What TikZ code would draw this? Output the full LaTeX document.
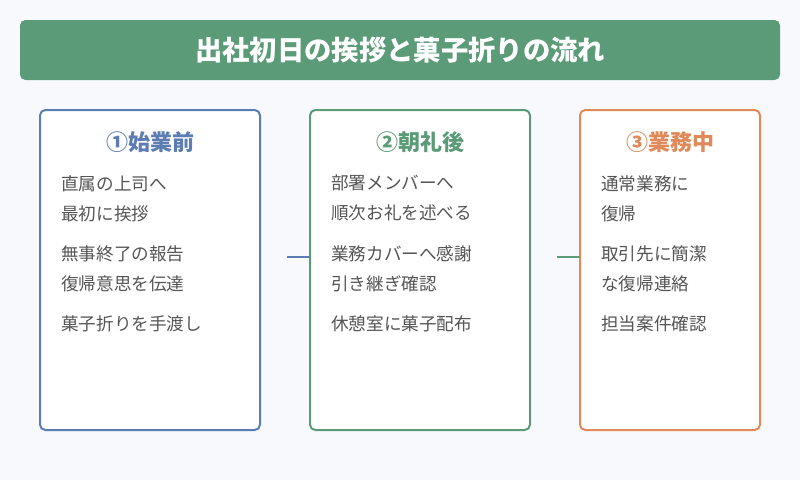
\documentclass[tikz,border=0pt]{standalone}
\usepackage{fontspec}
\setmainfont{Noto Sans CJK JP}
\usetikzlibrary{positioning}
\definecolor{bgc}{HTML}{F7F9FC}
\definecolor{titlec}{HTML}{5B9B78}
\definecolor{bluec}{HTML}{5B7DB1}
\definecolor{greenc}{HTML}{5B9B78}
\definecolor{orangec}{HTML}{E08A5A}
\definecolor{textc}{HTML}{555555}
\tikzset{
  stepbox/.style={draw=#1, line width=1.5pt, fill=white, rounded corners=4pt},
  head/.style={text=#1, font=\fontsize{16.5}{19}\selectfont\bfseries, anchor=center},
  item/.style={text=textc, font=\fontsize{13.2}{22.5}\selectfont, anchor=north west, align=left, inner sep=0pt},
  link/.style={draw=#1, line width=1.5pt}
}
\begin{document}
\begin{tikzpicture}[x=0.75pt, y=-0.75pt]
  \useasboundingbox[fill=bgc] (0,0) rectangle (800,480);
  \fill[titlec, rounded corners=4pt] (20,20) rectangle (780,80);
  \node[text=white, font=\fontsize{20.5}{24}\selectfont\bfseries] (title) at (400,50) {出社初日の挨拶と菓子折りの流れ};
  % boxes
  \draw[stepbox=bluec] (40,110) rectangle (260,430);
  \draw[stepbox=greenc] (310,110) rectangle (530,430);
  \draw[stepbox=orangec] (580,110) rectangle (760,430);
  \coordinate (l1) at (287,257);
  \coordinate (l2) at (557,257);
  \node[head=bluec] (h1) at (150,142) {①始業前};
  \node[head=greenc] (h2) at (420,142) {②朝礼後};
  \node[head=orangec] (h3) at (670,142) {③業務中};
  % items
  \node[item] (a1) at (61,175) {直属の上司へ\\最初に挨拶};
  \node[item] (a2) at (61,245) {無事終了の報告\\復帰意思を伝達};
  \node[item] (a3) at (61,315) {菓子折りを手渡し};
  \node[item] (c1) at (331,175) {部署メンバーへ\\順次お礼を述べる};
  \node[item] (c2) at (331,245) {業務カバーへ感謝\\引き継ぎ確認};
  \node[item] (c3) at (331,315) {休憩室に菓子配布};
  \node[item] (d1) at (601,175) {通常業務に\\復帰};
  \node[item] (d2) at (601,245) {取引先に簡潔\\な復帰連絡};
  \node[item] (d3) at (601,315) {担当案件確認};
  % links
  \draw[link=bluec] (l1) -- (310,257);
  \draw[link=greenc] (l2) -- (580,257);
\end{tikzpicture}
\end{document}
